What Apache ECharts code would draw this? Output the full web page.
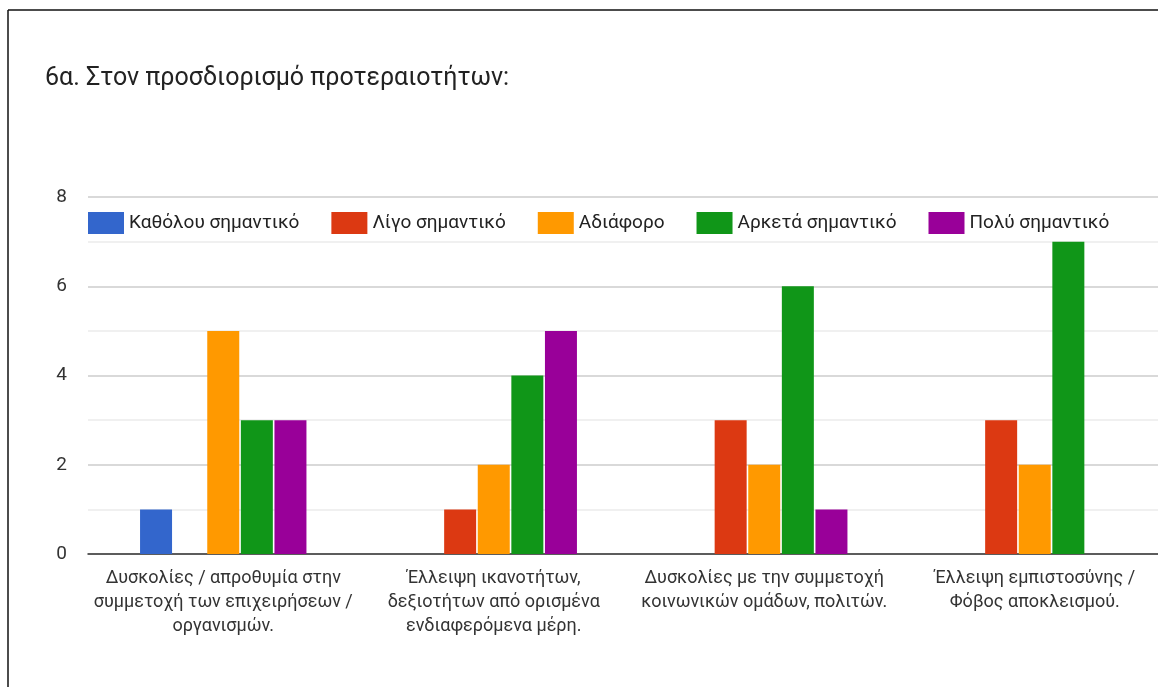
<!DOCTYPE html>
<html>
<head>
<meta charset="utf-8">
<script src="https://cdn.jsdelivr.net/npm/echarts@6/dist/echarts.min.js"></script>
<style>
html,body{margin:0;padding:0;background:#fff;}
#chart{width:1158px;height:687px;}
</style>
</head>
<body>
<div id="chart"></div>
<script>
const titleText = '6α. Στον προσδιορισμό προτεραιοτήτων:';
const categories = [
  'Δυσκολίες / απροθυμία στην\nσυμμετοχή των επιχειρήσεων /\nοργανισμών.',
  'Έλλειψη ικανοτήτων,\nδεξιοτήτων από ορισμένα\nενδιαφερόμενα μέρη.',
  'Δυσκολίες με την συμμετοχή\nκοινωνικών ομάδων, πολιτών.',
  'Έλλειψη εμπιστοσύνης /\nΦόβος αποκλεισμού.'
];
const seriesNames = ['Καθόλου σημαντικό', 'Λίγο σημαντικό', 'Αδιάφορο', 'Αρκετά σημαντικό', 'Πολύ σημαντικό'];
const seriesColors = ['#3366cc', '#dc3912', '#ff9900', '#109618', '#990099'];
const katholou = [1, 0, 0, 0];
const ligo = [0, 1, 3, 3];
const adiaforo = [5, 2, 2, 2];
const arketa = [3, 4, 6, 7];
const poly = [3, 5, 1, 0];
const seriesValues = [katholou, ligo, adiaforo, arketa, poly];
const yTicks = [0, 2, 4, 6, 8];

const chart = echarts.init(document.getElementById('chart'));
const font = 'Roboto, "Liberation Sans", Arial, sans-serif';
chart.setOption({
  animation: false,
  textStyle: { fontFamily: font },
  title: {
    text: titleText,
    left: 40,
    top: 61,
    textStyle: { fontSize: 25, fontWeight: 'normal', color: '#222', fontFamily: font }
  },
  legend: {
    data: seriesNames,
    left: 83,
    top: 207,
    itemWidth: 36,
    itemHeight: 22,
    itemGap: 32,
    icon: 'rect',
    textStyle: { fontSize: 19, color: '#222', fontFamily: font }
  },
  grid: { left: 88, width: 1082, top: 197, height: 357, containLabel: false, outerBoundsMode: 'none' },
  xAxis: {
    type: 'category',
    data: categories,
    axisTick: { show: false },
    axisLine: { show: true, lineStyle: { color: '#333', width: 1.5 } },
    axisLabel: { fontSize: 18, color: '#333', lineHeight: 24, margin: 12, interval: 0, fontFamily: font }
  },
  yAxis: {
    type: 'value',
    min: yTicks[0],
    max: yTicks[yTicks.length - 1],
    interval: 2,
    axisLine: { show: false },
    axisTick: { show: false },
    axisLabel: { fontSize: 19, color: '#333', margin: 21, fontFamily: font },
    splitLine: { lineStyle: { color: '#cccccc', width: 1.5 } },
    minorTick: { show: false, splitNumber: 2 },
    minorSplitLine: { show: true, lineStyle: { color: '#ebebeb', width: 1.5 } }
  },
  series: seriesNames.map((name, i) => ({
    name: name,
    type: 'bar',
    data: seriesValues[i],
    barWidth: 32,
    barGap: '5%',
    itemStyle: { color: seriesColors[i] }
  })),
  graphic: [
    { type: 'line', shape: { x1: 8, y1: 10, x2: 1158, y2: 10 }, style: { stroke: '#111', lineWidth: 1.5 } },
    { type: 'line', shape: { x1: 8, y1: 10, x2: 8, y2: 687 }, style: { stroke: '#111', lineWidth: 1.5 } }
  ]
});
</script>
</body>
</html>
